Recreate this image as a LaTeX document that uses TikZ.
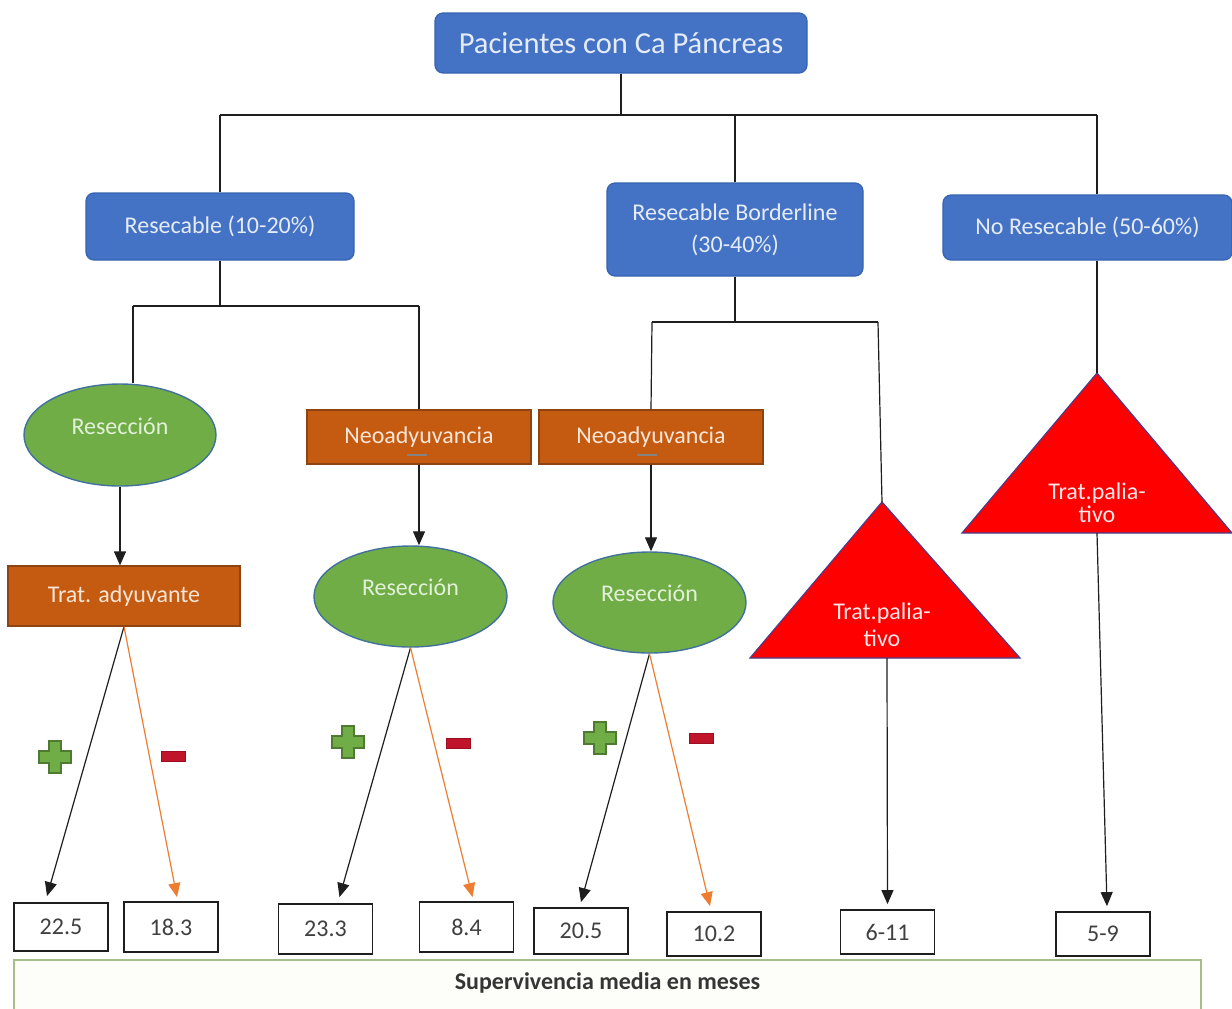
\documentclass[tikz,border=0pt]{standalone}
\usepackage{fontspec}
\setmainfont{Carlito}
\usepackage{tikz}
\usetikzlibrary{arrows.meta,shapes.geometric}
\definecolor{stage}{HTML}{4472C4}
\definecolor{stageline}{HTML}{3763B0}
\definecolor{stagetext}{HTML}{E6ECF7}
\definecolor{treat}{HTML}{C55A11}
\definecolor{treatline}{HTML}{8E4313}
\definecolor{treattext}{HTML}{F8E6D8}
\definecolor{resect}{HTML}{70AD47}
\definecolor{resectline}{HTML}{41719C}
\definecolor{resecttext}{HTML}{E2F0D9}
\definecolor{pall}{HTML}{FF0000}
\definecolor{pallline}{HTML}{4A3C8C}
\definecolor{palltextcol}{HTML}{FFE5E5}
\definecolor{loss}{HTML}{ED7D31}
\definecolor{plusgreen}{HTML}{70AD47}
\definecolor{plusline}{HTML}{4E7A32}
\definecolor{minusred}{HTML}{C0142B}
\definecolor{frame}{HTML}{A9BD8C}
\definecolor{summaryfill}{HTML}{FDFEF9}
\definecolor{ink}{HTML}{1E1E1E}

\begin{document}
\begin{tikzpicture}[x=0.5pt,y=-0.5pt,
  every node/.style={font=\fontsize{12}{14}\selectfont,align=center,inner sep=0pt},
  stagebox/.style={rounded corners=4pt,draw=stageline,line width=0.6pt,fill=stage,text=stagetext},
  treatbox/.style={draw=treatline,line width=0.6pt,fill=treat,text=treattext,minimum width=112pt,minimum height=27pt},
  resectnode/.style={ellipse,draw=resectline,line width=0.7pt,fill=resect,text=resecttext,minimum width=96.5pt,minimum height=50.5pt,text depth=9pt},
  palltri/.style={draw=pallline,line width=0.6pt,fill=pall},
  palltext/.style={text=palltextcol},
  valbox/.style={draw=ink,line width=0.9pt,fill=white,minimum width=47pt,minimum height=24pt,text=ink!85},
  minusmark/.style={draw=minusred!80!black,line width=0.4pt,fill=minusred,minimum width=12pt,minimum height=5pt},
  plusmark/.pic={\path[draw=plusline,fill=plusgreen,line width=0.6pt]
    (-6,-16) -- (6,-16) -- (6,-6) -- (16,-6) -- (16,6) -- (6,6) -- (6,16)
    -- (-6,16) -- (-6,6) -- (-16,6) -- (-16,-6) -- (-6,-6) -- cycle;},
  link/.style={draw=ink,line width=0.6pt},
  arrow/.style={link,-{Triangle[length=7pt,width=6pt]}},
  lossarrow/.style={draw=loss,line width=0.6pt,-{Triangle[length=7pt,width=6pt]}},
  summarybox/.style={draw=frame,line width=0.8pt,fill=summaryfill,text=ink!90,font=\bfseries\fontsize{12}{14}\selectfont,text depth=9pt}
]
\fill[white] (0,0) rectangle (1232,1008);
\useasboundingbox (0,0) rectangle (1232,1008);

\node[stagebox,minimum width=186pt,minimum height=30pt,font=\fontsize{15.25}{18}\selectfont] (patients) at (621,43) {Pacientes con Ca Páncreas};
\node[stagebox,minimum width=134pt,minimum height=33.5pt] (resectable) at (220,226.5) {Resecable (10-20\%)};
\node[stagebox,minimum width=128pt,minimum height=46.5pt,font=\fontsize{12}{16}\selectfont] (borderline) at (735,229.5) {Resecable Borderline\\(30-40\%)};
\node[stagebox,minimum width=144.5pt,minimum height=32.5pt] (unresectable) at (1087.5,227.5) {No Resecable (50-60\%)};

\coordinate (busL) at (220,115);
\coordinate (busR) at (1097,115);
\draw[link] (patients.south) -- (patients.south |- busL);
\draw[link] (busL) -- (busR);
\draw[link] (busL) -- (resectable.north);
\draw[link] (borderline.north) -- (borderline.north |- busL);
\draw[link] (busR) -- (busR |- unresectable.north);

\node[resectnode,minimum width=96pt,minimum height=51pt] (resA) at (120,435) {Resección};
\node[treatbox] (neoA) at (419,437) {Neoadyuvancia};
\node[treatbox] (neoB) at (651,437) {Neoadyuvancia};
\node[treatbox,minimum width=116pt,minimum height=30pt] (adjuvant) at (124,596) {Trat. adyuvante};
\node[resectnode] (resB) at (410.5,596.5) {Resección};
\node[resectnode] (resC) at (649.5,602.5) {Resección};

\coordinate (pallAtop) at (882,502);
\coordinate (pallAfoot) at (887,658);
\path[palltri] (pallAtop) -- (1020,658) -- (750,658) -- cycle;
\node[palltext,font=\fontsize{12}{13.5}\selectfont] (pallA) at (882,625) {Trat.palia-\\tivo};
\coordinate (pallBtop) at (1097,373);
\coordinate (pallBfoot) at (1097,533);
\path[palltri] (pallBtop) -- (1232,533) -- (962,533) -- cycle;
\node[palltext,font=\fontsize{12}{11.5}\selectfont] (pallB) at (1097,503) {Trat.palia-\\tivo};

\draw[ink!55,line width=0.6pt] ([xshift=-6pt,yshift=-9pt]neoA.center) -- ++(20,0);
\draw[ink!55,line width=0.6pt] ([xshift=-7pt,yshift=-9pt]neoB.center) -- ++(20,0);

\coordinate (forkAL) at (133,306);
\coordinate (forkAR) at (419,306);
\draw[link] (resectable.south) -- (resectable.south |- forkAL);
\draw[link] (forkAL) -- (forkAR);
\draw[link] (forkAL) -- (forkAL |- resA.north);
\draw[link] (forkAR) -- (neoA.north);

\coordinate (forkBL) at (652,322);
\coordinate (forkBR) at (878,322);
\draw[link] (borderline.south) -- (borderline.south |- forkBL);
\draw[link] (forkBL) -- (neoB.north);
\draw[link] (forkBL) -- (forkBR);
\draw[link] (forkBR) -- (pallAtop);
\draw[link] (pallBtop |- unresectable.south) -- (pallBtop);

\draw[arrow] (resA.south) -- (resA.south |- adjuvant.north);
\draw[arrow] (neoA.south) -- (neoA.south |- resB.north);
\draw[arrow] (neoB.south) -- (neoB.south |- resC.north);

\node[valbox] (v225) at (61,927) {22.5};
\node[valbox,minimum height=25pt] (v183) at (171,927) {18.3};
\node[valbox,minimum height=25pt] (v233) at (325.5,929) {23.3};
\node[valbox,minimum height=25pt] (v84) at (466.5,927) {8.4};
\node[valbox,minimum height=23pt] (v205) at (581,931) {20.5};
\node[valbox,minimum height=22pt] (v102) at (714,934) {10.2};
\node[valbox,minimum height=22pt] (v611) at (887.5,932) {6-11};
\node[valbox,minimum height=22pt] (v59) at (1103,934) {5-9};

\draw[arrow] (adjuvant.south) -- ([xshift=-7pt,yshift=3pt]v225.north);
\draw[lossarrow] (adjuvant.south) -- ([xshift=3pt,yshift=2pt]v183.north);
\draw[arrow] (resB.south) -- ([xshift=7pt,yshift=3pt]v233.north);
\draw[lossarrow] (resB.south) -- ([xshift=3pt,yshift=2pt]v84.north);
\draw[arrow] (resC.south) -- ([yshift=2.5pt]v205.north);
\draw[lossarrow] (resC.south) -- ([xshift=-2pt,yshift=2.5pt]v102.north);
\draw[arrow] (pallAfoot) -- ([yshift=2.5pt]v611.north);
\draw[arrow] (pallBfoot) -- ([xshift=2pt,yshift=2.5pt]v59.north);

\pic at (55,757) {plusmark};
\pic at (348,742) {plusmark};
\pic at (600,738) {plusmark};
\node[minusmark] (lossA) at (173,756) {};
\node[minusmark] (lossB) at (458,743) {};
\node[minusmark] (lossC) at (701,738) {};

\node[summarybox,minimum width=593.5pt,minimum height=30pt] (summary) at (607.5,990) {Supervivencia media en meses};
\end{tikzpicture}
\end{document}
